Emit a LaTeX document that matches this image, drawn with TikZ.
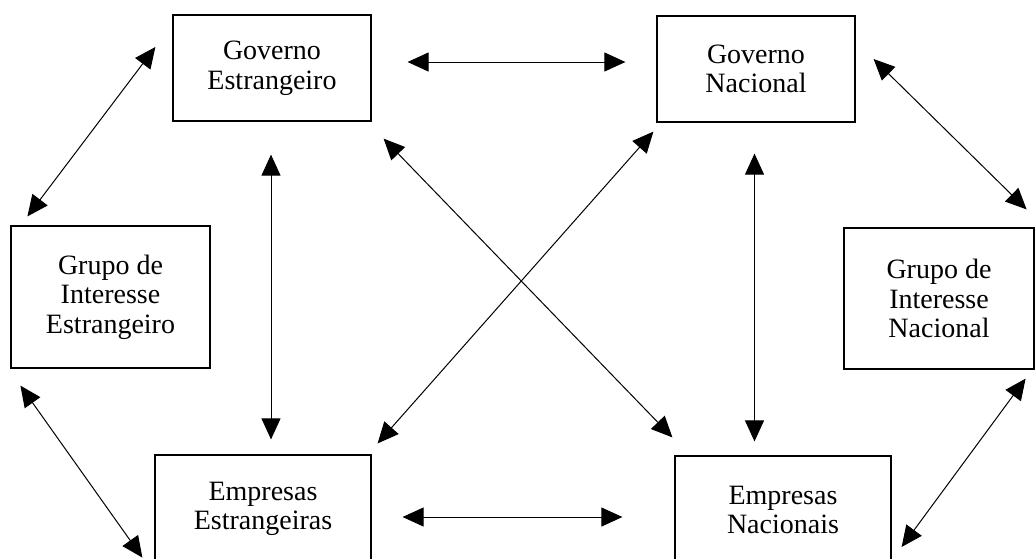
\documentclass[tikz,border=0pt]{standalone}
\usepackage{fontspec}
\setmainfont{Liberation Serif}
\usetikzlibrary{arrows.meta,calc}
\tikzset{
  box/.style={draw=black,line width=1.2pt,rectangle,inner sep=0pt,align=center,
    font=\fontsize{28}{29.5}\selectfont},
  conn/.style={line width=1pt,{Triangle[length=21pt,width=19pt]}-{Triangle[length=21pt,width=19pt]}}
}
\begin{document}
\begin{tikzpicture}[x=1pt,y=1pt]
\clip (0,0) rectangle (1035,-558);
\fill[white] (0,0) rectangle (1035,-558);
% boxes
\node[box,minimum width=198pt,minimum height=106pt] (GE) at (272,-68) {Governo\\Estrangeiro};
\node[box,minimum width=198pt,minimum height=106pt] (GN) at (756,-69) {Governo\\Nacional};
\node[box,minimum width=199pt,minimum height=142pt] (GIE) at (110.5,-297) {Grupo de\\Interesse\\Estrangeiro};
\node[box,minimum width=190pt,minimum height=141pt] (GIN) at (939,-298.5) {Grupo de\\Interesse\\Nacional};
\node[box,minimum width=216pt,minimum height=108pt] (EE) at (263,-509) {Empresas\\Estrangeiras};
\node[box,minimum width=216pt,minimum height=108pt] (EN) at (783,-510) {Empresas\\Nacionais};
% connectors
\draw[conn] ($(GE.east)+(36,6)$) -- ($(GN.west)+(-31,7)$);
\draw[conn] ($(EE.east)+(31,-8)$) -- ($(EN.west)+(-52,-7)$);
\draw[conn] ($(GE.south)+(-1,-33)$) -- ($(EE.north)+(8,15)$);
\draw[conn] ($(GN.south)+(-1.5,-31)$) -- ($(EN.north)+(-28.5,14)$);
\draw[conn] ($(GE.south east)+(12,-17)$) -- ($(EN.north west)+(-2,18)$);
\draw[conn] ($(GN.south west)+(-3,-9)$) -- ($(EE.north east)+(6,11)$);
\draw[conn] ($(GE.west)+(-17,21)$) -- ($(GIE.north west)+(17,9)$);
\draw[conn] ($(GIE.south west)+(10,-17)$) -- ($(EE.south west)+(-12,6)$);
\draw[conn] ($(GN.east)+(18,10)$) -- ($(GIN.north east)+(-8,18)$);
\draw[conn] ($(GIN.south east)+(-9,-9)$) -- ($(EN.east)+(10,-37)$);
\end{tikzpicture}
\end{document}
